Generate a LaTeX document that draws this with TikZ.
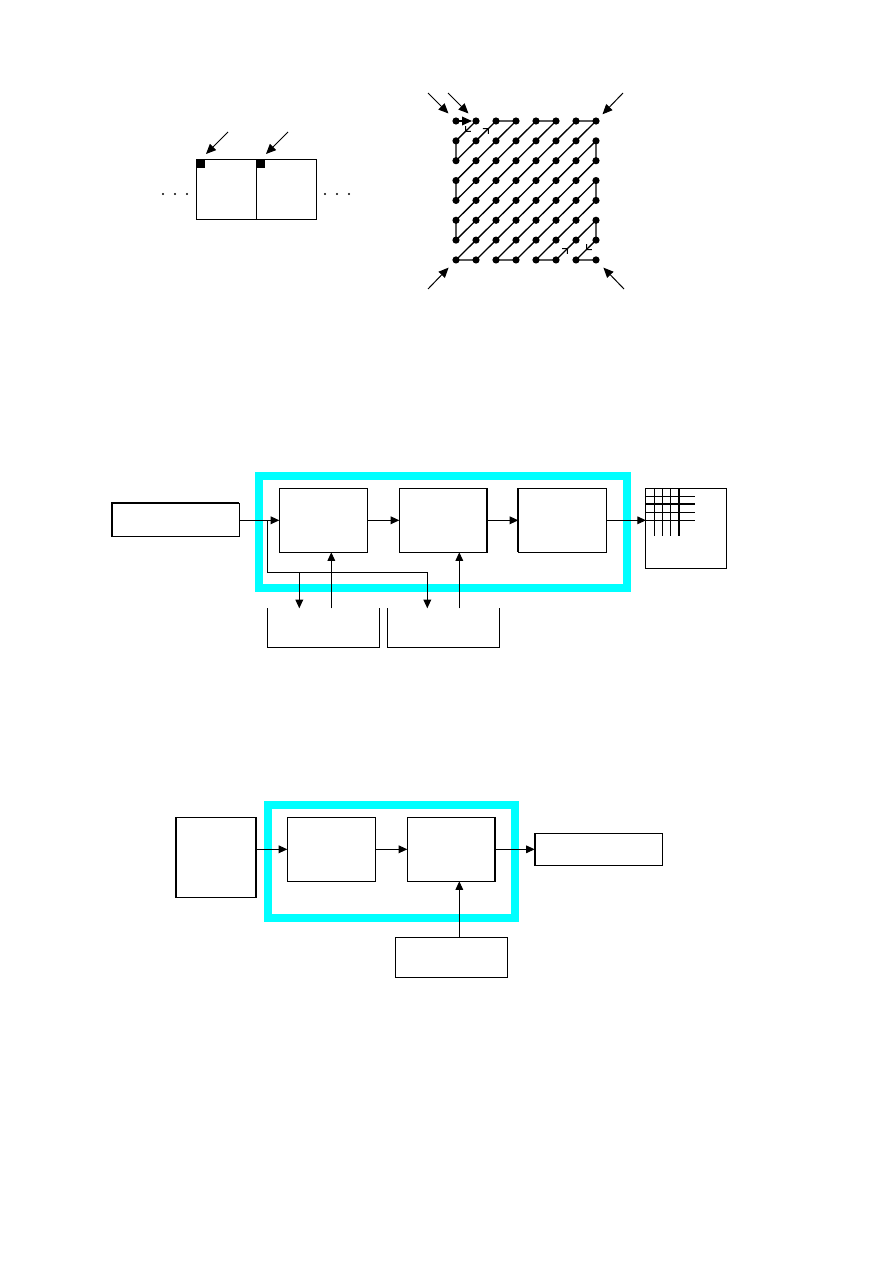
\documentclass[tikz,border=0pt]{standalone}
\usetikzlibrary{arrows.meta,decorations.markings}
\definecolor{framecyan}{RGB}{0,255,255}
\begin{document}
\begin{tikzpicture}[x=0.75pt,y=-0.75pt,line width=0.75pt,
  box/.style={draw,line width=0.75pt,inner sep=0pt,outer sep=0pt},
  ghost/.style={inner sep=0pt,outer sep=0pt},
  wh/.style 2 args={minimum width=#1*0.75pt,minimum height=#2*0.75pt},
  tip/.style={-{Triangle[length=6.5pt,width=5.8pt]}},
  bigtip/.style={-{Triangle[length=7.5pt,width=6.5pt]}},
  frame/.style={draw=framecyan,line width=#1},
  gdot/.style={circle,fill,inner sep=0pt,minimum size=5.4pt},
  tdot/.style={circle,fill,inner sep=0pt,minimum size=1.8pt},
  thickedge/.style={line width=1.5pt},
  barb/.style={decoration={markings,mark=at position #1 with {\arrow[line width=0.75pt]{Straight Barb[angle=90:4pt]}}},decorate}]
\useasboundingbox (0,0) rectangle (892,1263);

% ---------- top-left: two cells ----------
\node[box,wh={60}{60}] (cellA) at (226,189) {};
\node[box,wh={60}{60}] (cellB) at (286,189) {};
\node[fill,ghost,wh={9}{9},anchor=north west] (sqA) at (cellA.north west) {};
\node[fill,ghost,wh={9}{9},anchor=north west] (sqB) at (cellB.north west) {};
\coordinate (pA) at (228,132); \coordinate (tA) at (206,154);
\coordinate (pB) at (288,132); \coordinate (tB) at (266,154);
\draw[bigtip] (pA) -- (tA);
\draw[bigtip] (pB) -- (tB);
\foreach \x [count=\k] in {163,175,187,325,337,349}
  \node[tdot] (el\k) at (\x,194) {};

% ---------- top-right: zigzag scan ----------
\foreach \i in {0,...,7}
  \foreach \j in {0,...,7}
    \coordinate (g\i\j) at ({456+20*\i},{121+19.85*\j});
\draw[bigtip,shorten >=3pt,line width=1pt] (g00) -- (g10);
\draw[line join=round,line width=1pt] (g10) -- (g01) -- (g02) -- (g20) -- (g30) -- (g03) -- (g04) -- (g40) -- (g50)
  -- (g05) -- (g06) -- (g60) -- (g70) -- (g07) -- (g17) -- (g71) -- (g72) -- (g27) -- (g37)
  -- (g73) -- (g74) -- (g47) -- (g57) -- (g75) -- (g76) -- (g67) -- (g77);
\path[barb=0.55] (g10) -- (g01);
\path[barb=0.82] (g02) -- (g20);
\path[barb=0.3] (g57) -- (g75);
\path[barb=0.5] (g76) -- (g67);
\foreach \i in {0,...,7}
  \foreach \j in {0,...,7}
    \node[gdot] at (g\i\j) {};
\coordinate (c1) at (428,93);
\coordinate (c2) at (448,93);
\coordinate (c3) at (623,93);
\coordinate (c4) at (428,289);
\coordinate (c5) at (624,289);
\draw[bigtip,shorten >=8pt] (c1) -- (g00);
\draw[bigtip,shorten >=8pt] (c2) -- (g10);
\draw[bigtip,shorten >=7pt] (c3) -- (g70);
\draw[bigtip,shorten >=8pt] (c4) -- (g07);
\draw[bigtip,shorten >=8pt] (c5) -- (g77);

% ---------- middle diagram ----------
\draw[frame=5.6pt] (259,476) rectangle (627,588);
\node[box,wh={127.6}{33}] (in1) at (175.5,519.8) {};
\draw[thickedge] (in1.south west) -- (in1.north west) -- (in1.north east);
\node[box,wh={88}{64}] (b1) at (323.3,520.3) {};
\node[box,wh={88}{64}] (b2) at (443.3,520.3) {};
\draw[thickedge] (b2.north east) -- (b2.south east);
\node[box,wh={88.4}{64}] (b3) at (562.5,520.3) {};
\draw[thickedge] (b3.north west) -- (b3.south west);
\node[box,wh={80.7}{80}] (gb) at (686.3,528.3) {};
\foreach \x in {654.3,662.3,670.3}
  \draw (\x,488.3) -- (\x,536);
\draw[thickedge] (678.7,488.3) -- (678.7,536);
\foreach \y in {496.3,512.3,520.3}
  \draw (646,\y) -- (695,\y);
\draw[thickedge] (646,504.3) -- (695,504.3);

\node[ghost,wh={112}{39}] (m1) at (323.3,627.8) {};
\node[ghost,wh={112}{39}] (m2) at (443.3,627.8) {};
\draw (m1.north west) -- (m1.south west) -- (m1.south east) -- (m1.north east);
\draw (m2.north west) -- (m2.south west) -- (m2.south east) -- (m2.north east);

\draw[tip] (in1.east |- b1.west) -- (b1.west);
\draw[tip] (b1.east) -- (b2.west);
\draw[tip] (b2.east) -- (b3.west);
\draw[tip] (b3.east) -- (b3.east -| gb.west);

\coordinate (j1) at (267.3,520.3);
\coordinate (k1) at (267.3,572.3);
\coordinate (k2) at (427.3,572.3);
\coordinate (k3) at (299.3,572.3);
\draw (j1) -- (k1) -- (k2);
\draw[tip] (k2) -- (k2 |- m2.north);
\draw[tip] (k3) -- (k3 |- m1.north);
\coordinate (u1) at (331.3,552.3);
\coordinate (u2) at (459.3,552.3);
\draw[tip] (u1 |- m1.north) -- (u1);
\draw[tip] (u2 |- m2.north) -- (u2);

% ---------- bottom diagram ----------
\draw[frame=6pt] (267.7,805) rectangle (515.3,918);
\node[box,wh={80.6}{80}] (lb) at (216,857.3) {};
\draw[thickedge] (lb.north west) -- (lb.south west);
\draw[thickedge] (lb.north east) -- (lb.south east);
\node[box,wh={88}{64}] (bA) at (331.3,849.3) {};
\node[box,wh={88}{64}] (bB) at (451.3,849.3) {};
\draw[thickedge] (bB.north east) -- (bB.south east);
\node[box,wh={127.6}{32}] (out) at (598.5,849.3) {};
\draw[thickedge] (out.north west) -- (out.south west);
\node[box,wh={112}{40}] (low) at (451.3,957.3) {};

\draw[tip] (lb.east |- bA.west) -- (bA.west);
\draw[tip] (bA.east) -- (bB.west);
\draw[tip] (bB.east) -- (out.west);
\coordinate (u3) at (459.3,881.3);
\draw[tip] (u3 |- low.north) -- (u3);
\end{tikzpicture}
\end{document}
